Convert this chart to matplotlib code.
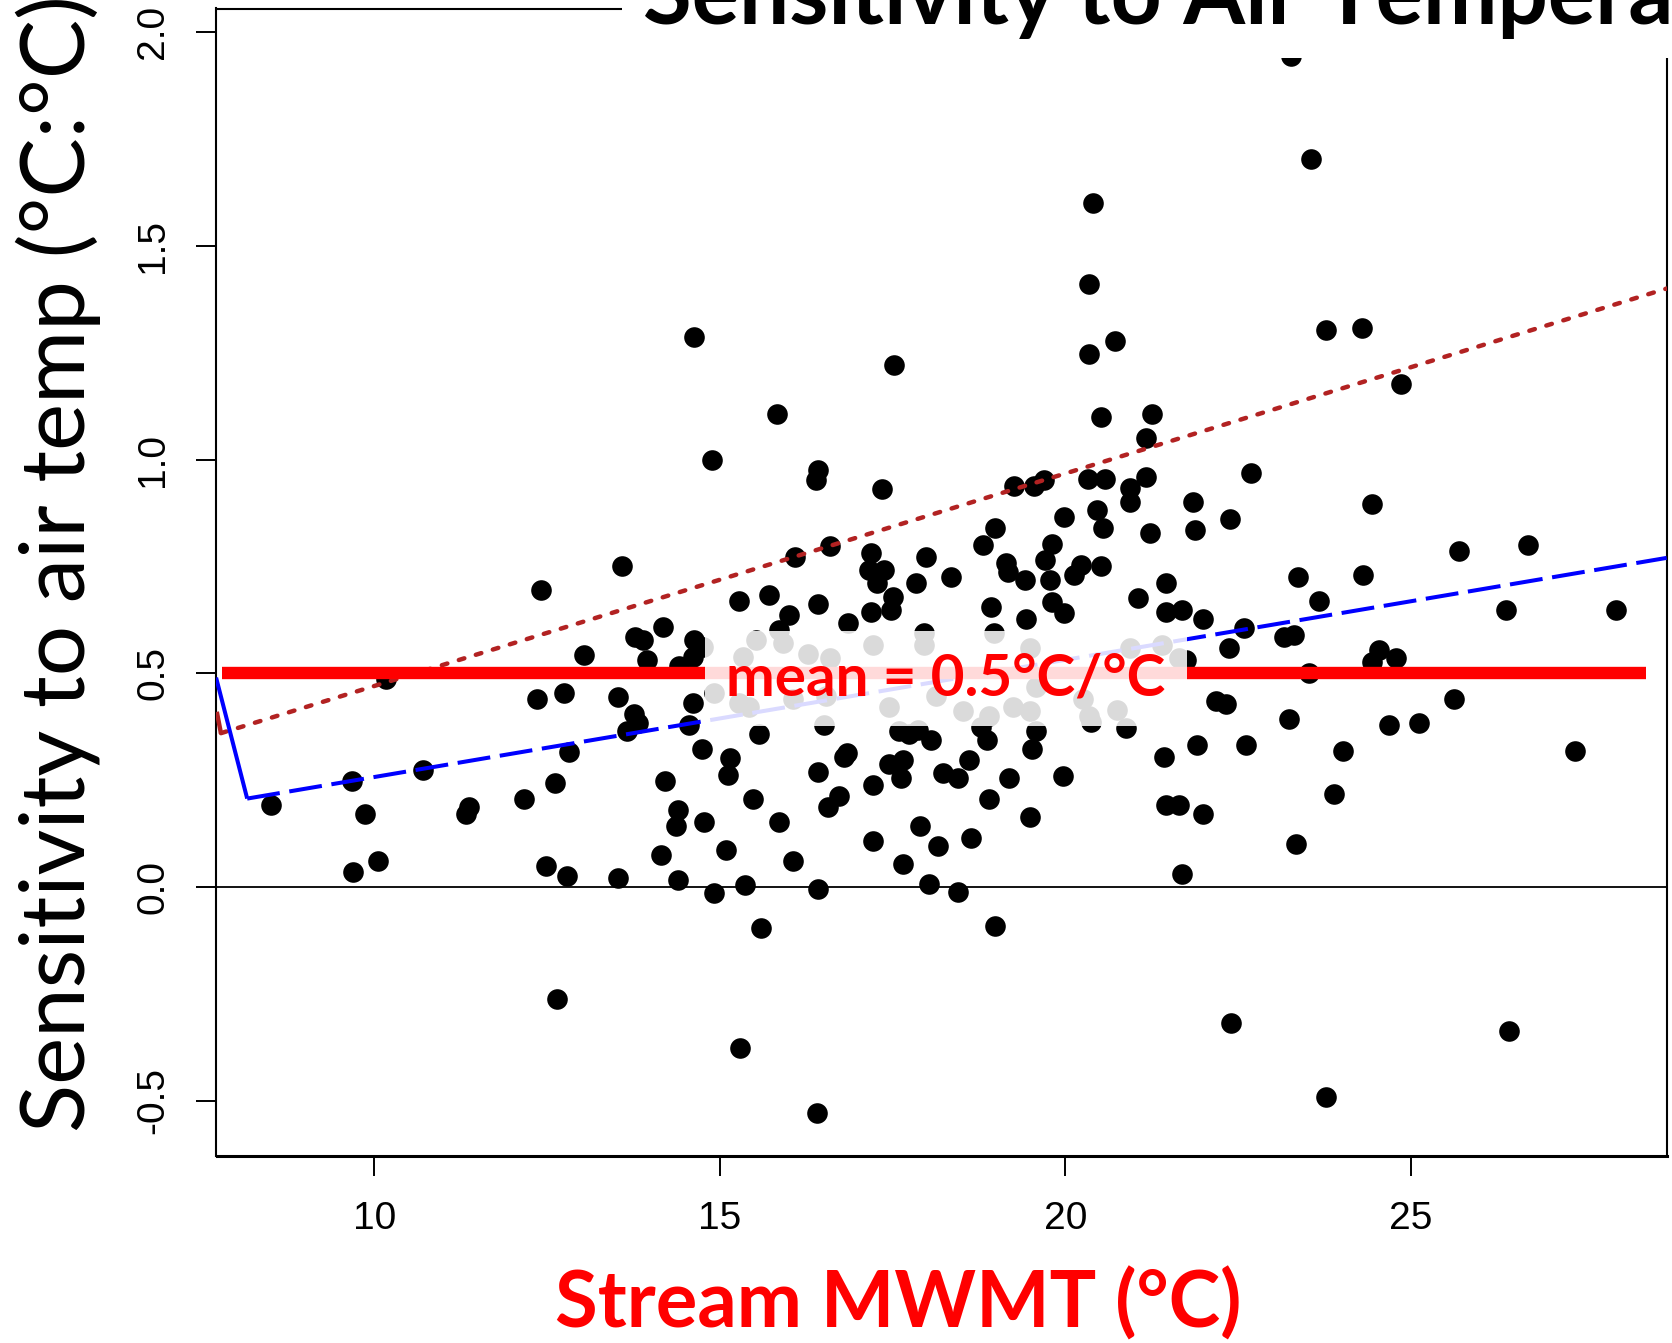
import matplotlib
matplotlib.use("Agg")
import matplotlib.pyplot as plt
from matplotlib.patches import Rectangle

plt.rcParams['axes.unicode_minus'] = False

# ---------------- data ----------------
mwmt = [23.26, 23.55, 20.40, 20.34, 14.63, 20.71, 23.77, 24.29, 20.34, 17.52,
        24.86, 15.82, 21.25, 20.51, 21.17, 14.89, 16.42, 16.39, 21.17, 20.32,
        20.57, 22.69, 19.26, 19.55, 19.69, 17.35, 20.93, 20.93, 21.85, 24.43,
        20.45, 19.98, 22.38, 18.98, 20.54, 21.22, 21.88, 19.81, 18.80, 16.59,
        16.08, 17.19, 17.98, 19.71, 25.69, 26.70, 19.14, 19.17, 20.23, 20.12,
        20.51, 17.16, 17.38, 17.28, 13.58, 18.35, 19.77, 19.41, 23.36, 24.31,
        17.84, 21.45, 12.41, 15.71, 17.50, 17.48, 21.05, 23.67, 15.28, 16.42,
        18.92, 19.80, 19.98, 21.45, 21.68, 26.37, 27.96, 19.43, 21.99, 16.00,
        17.19, 16.85, 14.18, 22.59, 23.16, 23.30, 13.77, 13.89, 14.63, 14.75,
        14.61, 14.41, 22.36, 13.04, 24.54, 24.43, 24.78, 13.94, 23.53, 22.18,
        22.33, 25.62, 23.24, 24.68, 25.11, 20.88, 22.61, 21.91, 27.38, 24.01,
        21.42, 23.89, 21.45, 21.64, 21.99, 23.33, 21.68, 22.39, 26.42, 23.77,
        8.50, 9.68, 9.86, 9.69, 10.05, 10.17, 10.71, 11.33, 11.37, 12.16,
        12.36, 12.75, 12.82, 12.62, 12.48, 12.79, 12.65, 13.53, 13.52, 13.75,
        13.81, 13.66, 14.21, 14.40, 14.37, 14.15, 14.40, 14.77, 14.74, 14.61,
        14.91, 14.55, 15.09, 14.92, 15.14, 15.12, 15.37, 15.59, 15.48, 15.56,
        15.29, 15.85, 16.06, 16.42, 16.42, 16.51, 16.40, 16.57, 16.73, 16.84,
        16.79, 17.22, 17.22, 17.44, 17.65, 17.62, 17.65, 17.59, 17.73, 17.87,
        17.89, 18.06, 18.02, 18.16, 18.23, 18.44, 18.44, 18.60, 18.64, 18.78,
        18.87, 18.89, 18.98, 19.18, 19.48, 19.52, 19.57, 19.97, 20.37,
        15.52, 15.85, 15.91, 15.34, 16.28, 16.60, 17.22, 17.96, 17.96, 18.97,
        19.48, 20.93, 21.39, 21.64, 15.42, 16.06, 16.54, 17.45, 18.13, 18.52,
        18.89, 19.24, 19.48, 19.58, 20.26, 20.34, 20.74, 15.28, 21.74]

sens = [1.945, 1.703, 1.599, 1.411, 1.287, 1.277, 1.302, 1.307, 1.247, 1.222,
        1.177, 1.107, 1.107, 1.100, 1.050, 0.998, 0.975, 0.953, 0.960, 0.955,
        0.955, 0.968, 0.938, 0.938, 0.953, 0.930, 0.933, 0.900, 0.900, 0.895,
        0.883, 0.865, 0.860, 0.840, 0.840, 0.828, 0.835, 0.803, 0.800, 0.798,
        0.771, 0.781, 0.771, 0.766, 0.786, 0.800, 0.758, 0.738, 0.753, 0.731,
        0.751, 0.741, 0.741, 0.711, 0.751, 0.726, 0.718, 0.718, 0.726, 0.731,
        0.711, 0.711, 0.696, 0.683, 0.678, 0.648, 0.676, 0.668, 0.668, 0.663,
        0.656, 0.666, 0.641, 0.643, 0.648, 0.648, 0.648, 0.626, 0.628, 0.636,
        0.643, 0.618, 0.608, 0.606, 0.586, 0.589, 0.586, 0.579, 0.579, 0.561,
        0.539, 0.516, 0.559, 0.544, 0.554, 0.526, 0.536, 0.531, 0.501, 0.436,
        0.429, 0.439, 0.394, 0.379, 0.384, 0.372, 0.332, 0.332, 0.319, 0.319,
        0.304, 0.217, 0.192, 0.192, 0.172, 0.100, 0.030, -0.317, -0.337, -0.491,
        0.192, 0.249, 0.172, 0.035, 0.060, 0.486, 0.274, 0.172, 0.187, 0.207,
        0.439, 0.454, 0.317, 0.244, 0.050, 0.025, -0.262, 0.022, 0.444, 0.406,
        0.384, 0.364, 0.249, 0.180, 0.142, 0.075, 0.017, 0.152, 0.322, 0.431,
        0.454, 0.379, 0.087, -0.015, 0.302, 0.262, 0.005, -0.095, 0.207, 0.359,
        -0.377, 0.152, 0.060, 0.269, -0.005, 0.379, -0.529, 0.187, 0.212, 0.314,
        0.304, 0.239, 0.107, 0.289, 0.297, 0.254, 0.055, 0.364, 0.359, 0.367,
        0.142, 0.344, 0.007, 0.095, 0.267, 0.254, -0.012, 0.297, 0.115, 0.374,
        0.344, 0.207, -0.092, 0.254, 0.165, 0.324, 0.364, 0.259, 0.387,
        0.579, 0.601, 0.571, 0.539, 0.546, 0.536, 0.566, 0.594, 0.566, 0.594,
        0.559, 0.559, 0.566, 0.536, 0.421, 0.439, 0.446, 0.421, 0.446, 0.411,
        0.401, 0.421, 0.411, 0.469, 0.439, 0.399, 0.414, 0.431, 0.531]

# fitted lines
upper_kink_x = [7.72, 7.78]
upper_kink_y = [0.41, 0.36]
upper_fit_x = [7.78, 28.70]
upper_fit_y = [0.36, 1.40]

lower_kink_x = [7.71, 8.16]
lower_kink_y = [0.49, 0.207]
lower_fit_x = [8.16, 28.70]
lower_fit_y = [0.207, 0.770]

mean_val = 0.5
mean_x = [7.80, 28.40]
mean_label = "mean = 0.5\u00b0C/\u00b0C"
mean_label_x = 18.27
mean_label_y = 0.449

xticks = [10, 15, 20, 25]
yticks = [-0.5, 0.0, 0.5, 1.0, 1.5, 2.0]
ytick_labels = ["-0.5", "0.0", "0.5", "1.0", "1.5", "2.0"]

title_text = "Sensitivity to Air Temperature"
xlabel_text = "Stream MWMT (\u00b0C)"
ylabel_text = "Sensitivity to air temp (\u00b0C:\u00b0C)"

# ---------------- figure ----------------
W, H = 1672, 1343
fig = plt.figure(figsize=(W / 100, H / 100), dpi=100)
ax = fig.add_axes([216.5 / W, 1 - 1156 / H, (1666.7 - 216.5) / W, (1156 - 8.5) / H])

ax.set_xlim(7.716, 28.70)
ax.set_ylim(-0.629, 2.055)

ax.scatter(mwmt, sens, s=220, c='black', linewidths=0, zorder=3)

ax.axhline(0, color='black', lw=1.3, zorder=2)

ax.plot(upper_kink_x, upper_kink_y, color='#B22222', lw=3.2, zorder=4,
        solid_capstyle='butt')
ax.plot(upper_fit_x, upper_fit_y, color='#B22222', lw=3.2, zorder=4,
        linestyle=(0, (1.3, 2.7)), dash_capstyle='round')

ax.plot(lower_kink_x, lower_kink_y, color='blue', lw=2.9, zorder=4,
        solid_capstyle='butt')
ax.plot(lower_fit_x, lower_fit_y, color='blue', lw=2.9, zorder=4,
        linestyle=(0, (8.2, 2.4)))

ax.plot(mean_x, [mean_val, mean_val], color='red', lw=8.9, zorder=5,
        solid_capstyle='butt')

ax.text(mean_label_x, mean_label_y, mean_label, color='red', fontsize=42,
        fontweight='bold', family='Lato', ha='center', va='baseline', zorder=7,
        bbox=dict(boxstyle='square,pad=0.36', facecolor=(1, 1, 1, 0.86),
                  edgecolor='none'))

ax.set_xticks(xticks)
ax.set_yticks(yticks)
ax.set_yticklabels(ytick_labels)
ax.tick_params(axis='both', direction='out', length=14.4, width=1.4,
               labelsize=28, pad=18, top=False, right=False)
for lbl in ax.get_xticklabels() + ax.get_yticklabels():
    lbl.set_family('Liberation Sans')
for lbl in ax.get_yticklabels():
    lbl.set_rotation(90)
    lbl.set_va('center')
for sp in ax.spines.values():
    sp.set_linewidth(1.5)
ax.spines['bottom'].set_linewidth(2.2)

# white box behind the (cropped) slide title
fig.add_artist(Rectangle((622 / W, 1 - 58 / H), 1, 1, transform=fig.transFigure,
                         facecolor='white', edgecolor='none', zorder=10))
fig.text(643 / W, 1 - 24 / H, title_text, fontsize=64, fontweight='bold',
         family='Lato', ha='left', va='baseline', color='black', zorder=11)

fig.text(898 / W, 1 - 1328 / H, xlabel_text, fontsize=56, fontweight='bold',
         family='Lato', color='red', ha='center', va='baseline')

fig.text(0.035, 1 - 1132 / H, ylabel_text, fontsize=64, family='Lato',
         rotation=90, ha='center', va='bottom', color='black')

fig.savefig("out.png", dpi=100)
